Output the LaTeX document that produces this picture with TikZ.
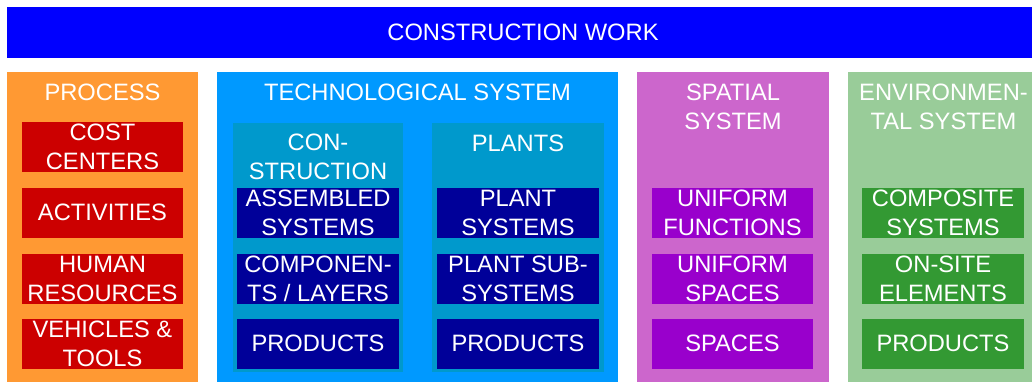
\documentclass[tikz,border=0pt]{standalone}
\usepackage{fontspec}
\setmainfont{Liberation Sans}
\definecolor{barblue}{HTML}{0000FF}
\definecolor{procorange}{HTML}{FF9933}
\definecolor{procred}{HTML}{CC0000}
\definecolor{techblue}{HTML}{0099FF}
\definecolor{techteal}{HTML}{0099CC}
\definecolor{techdark}{HTML}{000099}
\definecolor{spatpink}{HTML}{CC66CC}
\definecolor{spatpurple}{HTML}{9900CC}
\definecolor{envlight}{HTML}{99CC99}
\definecolor{envdark}{HTML}{339933}
\tikzset{
  txt/.style={text=white, align=center, inner sep=0pt, font=\fontsize{23.7}{29}\selectfont},
  panel/.style={draw=none, inner sep=0pt, minimum height=318},
  item/.style={txt, minimum width=162, minimum height=50},
}
\begin{document}
\begin{tikzpicture}[x=1pt,y=-1pt]
\useasboundingbox (0,0) rectangle (1032,381);
\fill[white] (0,0) rectangle (1032,381);
% top bar
\node[txt, fill=barblue, minimum width=1032, minimum height=51] (bar) at (523,32.5) {CONSTRUCTION WORK};
% columns
\node[panel, fill=procorange, minimum width=191] (proc) at (102.5,231) {};
\node[panel, fill=techblue, minimum width=401] (tech) at (417.5,231) {};
\node[panel, fill=spatpink, minimum width=192] (spat) at (733,231) {};
\node[panel, fill=envlight, minimum width=191] (env) at (943.5,231) {};
% inner tech panels
\node[panel, fill=techteal, minimum width=170, minimum height=249] (cons) at (318,247.5) {};
\node[panel, fill=techteal, minimum width=172, minimum height=249] (plants) at (518,247.5) {};
% headings
\node[txt] (hproc) at (102.5,92) {PROCESS};
\node[txt] (htech) at (417.5,92) {TECHNOLOGICAL SYSTEM};
\node[txt] (hspat) at (733,107) {SPATIAL\\SYSTEM};
\node[txt] (henv) at (943.5,107) {ENVIRONMEN-\\TAL SYSTEM};
\node[txt] (hcons) at (318,157) {CON-\\STRUCTION};
\node[txt] (hplants) at (518,143) {PLANTS};
% process items
\node[item, fill=procred, minimum width=161] (cost) at (102.5,147) {COST\\CENTERS};
\node[item, fill=procred, minimum width=161] (act) at (102.5,212.5) {ACTIVITIES};
\node[item, fill=procred, minimum width=161] (hum) at (102.5,278.5) {HUMAN\\RESOURCES};
\node[item, fill=procred, minimum width=161] (veh) at (102.5,343.5) {VEHICLES \&\\TOOLS};
% construction items
\node[item, fill=techdark] (asm) at (318,212.5) {ASSEMBLED\\SYSTEMS};
\node[item, fill=techdark] (comp) at (318,278.5) {COMPONEN-\\TS / LAYERS};
\node[item, fill=techdark] (cprod) at (318,343.5) {PRODUCTS};
% plant items
\node[item, fill=techdark] (psys) at (518,212.5) {PLANT\\SYSTEMS};
\node[item, fill=techdark] (psub) at (518,278.5) {PLANT SUB-\\SYSTEMS};
\node[item, fill=techdark] (pprod) at (518,343.5) {PRODUCTS};
% spatial items
\node[item, fill=spatpurple, minimum width=161] (ufun) at (732.5,212.5) {UNIFORM\\FUNCTIONS};
\node[item, fill=spatpurple, minimum width=161] (uspa) at (732.5,278.5) {UNIFORM\\SPACES};
\node[item, fill=spatpurple, minimum width=161] (spa) at (732.5,343.5) {SPACES};
% environmental items
\node[item, fill=envdark] (csys) at (943,212.5) {COMPOSITE\\SYSTEMS};
\node[item, fill=envdark] (onsite) at (943,278.5) {ON-SITE\\ELEMENTS};
\node[item, fill=envdark] (eprod) at (943,343.5) {PRODUCTS};
\end{tikzpicture}
\end{document}
